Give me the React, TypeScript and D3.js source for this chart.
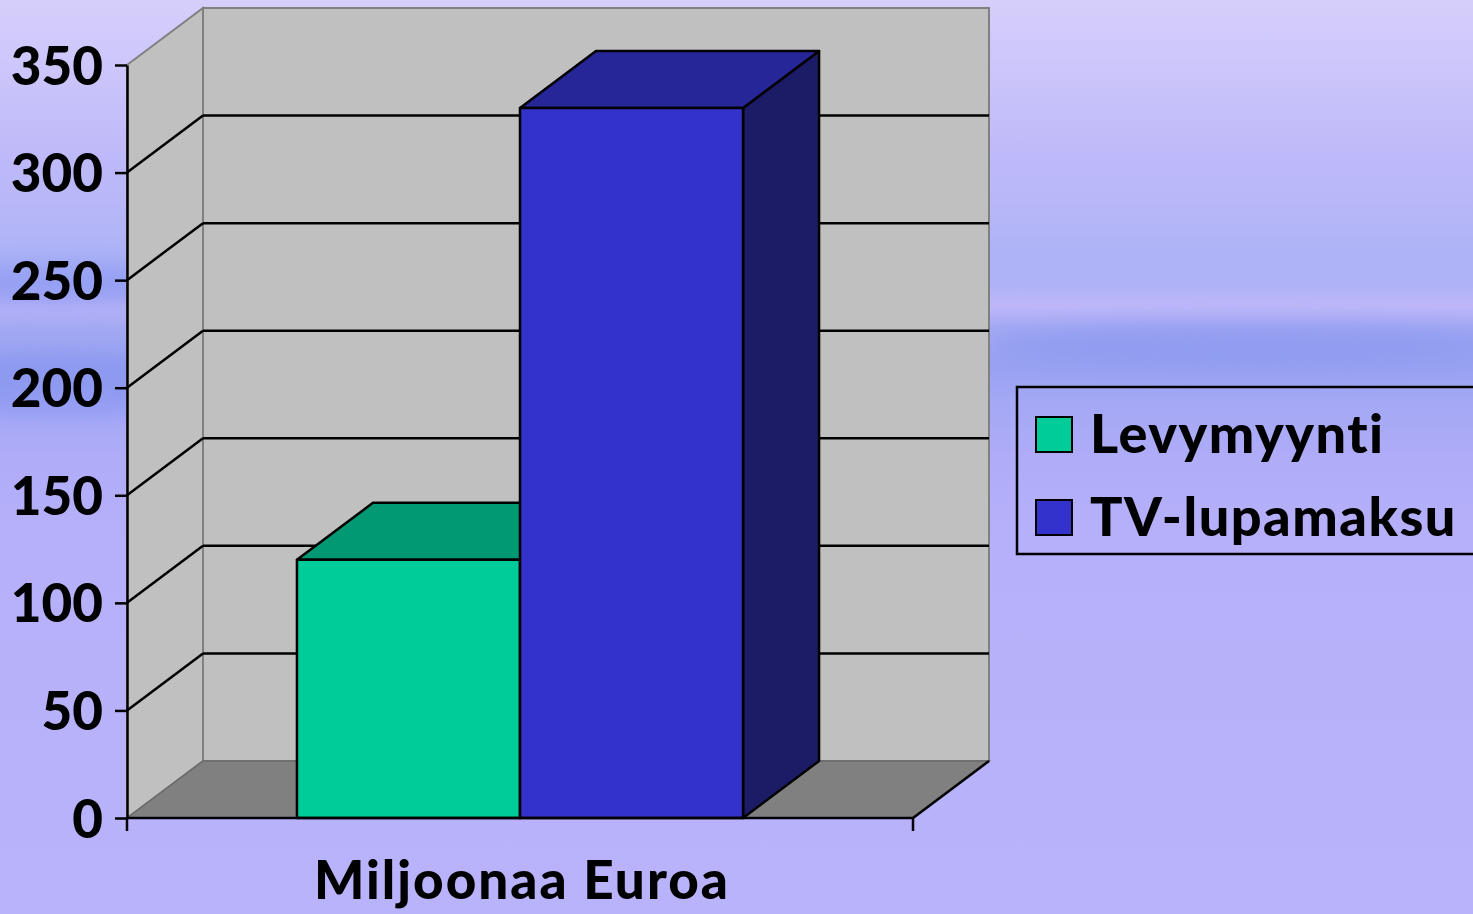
import React, { useEffect, useRef } from 'react';
import { scaleLinear, scaleBand, select, axisLeft } from 'd3';

const d3 = { scaleLinear, scaleBand, select, axisLeft };

// data
const categories = ['Miljoonaa Euroa'];
const seriesNames = ['Levymyynti', 'TV-lupamaksu'];
const seriesValues = [120, 330];
const yTicks = [0, 50, 100, 150, 200, 250, 300, 350];

const seriesFront = ['#00CC99', '#3333CC'];
const seriesTop = ['#009973', '#262699'];
const seriesSide = ['#007359', '#1C1C66'];

const W = 1473;
const H = 914;
const DX = 76; // 3d depth offset
const DY = 57;
const FONT = 'Lato, "Open Sans", sans-serif';

const bgStops = [
    [0, '#D6CFFB'], [0.08, '#CBC5FB'], [0.16, '#C0BAF9'], [0.22, '#B8B7F8'],
    [0.28, '#ADB3F6'], [0.31, '#AFB2F6'], [0.335, '#BDB6F9'], [0.36, '#A2A8F3'],
    [0.40, '#98A2F1'], [0.44, '#A4A8F5'], [0.50, '#AFACF8'], [0.58, '#B6B0FA'],
    [1, '#B9B3FB'],
];

const pts = (p: number[][]) => p.map(d => d.join(',')).join(' ');

const App = () => {
    const axisRef = useRef<SVGGElement>(null);

    const y = d3.scaleLinear().domain([0, 350]).range([818, 65]);
    const xCat = d3.scaleBand().domain(categories).range([127, 913]);
    const x = d3.scaleBand()
        .domain(seriesNames)
        .range([xCat(categories[0])!, xCat(categories[0])! + xCat.bandwidth()])
        .paddingOuter(0.762);

    const x0 = 127, x1 = 913;
    const yTop = y(350), yBase = y(0);

    useEffect(() => {
        const g = d3.select(axisRef.current);
        g.call(d3.axisLeft(y).tickValues(yTicks).tickSize(12).tickSizeOuter(0).tickPadding(12) as any);
        g.select('.domain').attr('stroke', '#000').attr('stroke-width', 2.5);
        g.selectAll('.tick line').attr('stroke', '#000').attr('stroke-width', 2.5);
        g.selectAll('.tick text')
            .attr('font-family', FONT)
            .attr('font-weight', 900)
            .attr('font-size', 53)
            .attr('fill', '#000')
            .attr('dy', '0.36em');
        g.attr('font-family', null).attr('font-size', null);
    }, []);

    return (
        <svg width={W} height={H} style={{ position: 'absolute', left: 0, top: 0 }}>
            <defs>
                <linearGradient id="bg" x1="0" y1="0" x2="0" y2="1">
                    {bgStops.map(([o, c]) => <stop key={o as number} offset={o as number} stopColor={c as string} />)}
                </linearGradient>
                <filter id="blur" x="-20%" y="-50%" width="140%" height="200%">
                    <feGaussianBlur stdDeviation="10" />
                </filter>
            </defs>
            <rect width={W} height={H} fill="url(#bg)" />
            <g filter="url(#blur)" opacity={0.5}>
                <ellipse cx={60} cy={285} rx={180} ry={22} fill="#7E8FF0" />
                <ellipse cx={60} cy={385} rx={200} ry={30} fill="#7F90EF" />
                <ellipse cx={1250} cy={345} rx={260} ry={20} fill="#8494EE" />
            </g>

            {/* left wall */}
            <polygon points={pts([[x0, yTop], [x0 + DX, yTop - DY], [x0 + DX, yBase - DY], [x0, yBase]])}
                fill="#C0C0C0" stroke="#808080" strokeWidth={2} />
            {/* back wall */}
            <rect x={x0 + DX} y={yTop - DY} width={x1 - x0} height={yBase - yTop}
                fill="#C0C0C0" stroke="#808080" strokeWidth={2} />
            {/* floor */}
            <polygon points={pts([[x0, yBase], [x0 + DX, yBase - DY], [x1 + DX, yBase - DY], [x1, yBase]])}
                fill="#808080" stroke="#6a6a6a" strokeWidth={1.5} />
            <line x1={x1} y1={yBase} x2={x1 + DX} y2={yBase - DY} stroke="#000" strokeWidth={2.5} />

            {/* gridlines */}
            {yTicks.filter(t => t > 0 && t < 350).map(t => (
                <g key={t} stroke="#000" strokeWidth={2.5}>
                    <line x1={x0} y1={y(t)} x2={x0 + DX} y2={y(t) - DY} />
                    <line x1={x0 + DX} y1={y(t) - DY} x2={x1 + DX} y2={y(t) - DY} />
                </g>
            ))}

            {/* bars */}
            {seriesNames.map((s, i) => {
                const bx = x(s)!;
                const bw = x.bandwidth();
                const top = y(seriesValues[i]);
                return (
                    <g key={s} stroke="#000" strokeWidth={2.5} strokeLinejoin="round">
                        <polygon fill={seriesSide[i]}
                            points={pts([[bx + bw, top], [bx + bw + DX, top - DY], [bx + bw + DX, yBase - DY], [bx + bw, yBase]])} />
                        <polygon fill={seriesTop[i]}
                            points={pts([[bx, top], [bx + DX, top - DY], [bx + bw + DX, top - DY], [bx + bw, top]])} />
                        <rect x={bx} y={top} width={bw} height={yBase - top} fill={seriesFront[i]} />
                    </g>
                );
            })}

            {/* x axis */}
            <g stroke="#000" strokeWidth={2.5}>
                <line x1={x0} y1={yBase} x2={x1} y2={yBase} />
                {[x0, x1].map(v => <line key={v} x1={v} y1={yBase} x2={v} y2={yBase + 13} />)}
            </g>
            <text x={xCat(categories[0])! + xCat.bandwidth() / 2 + 2} y={899} textAnchor="middle"
                fontFamily={FONT} fontWeight={900} fontSize={53} letterSpacing={2}>{categories[0]}</text>

            {/* y axis */}
            <g ref={axisRef} transform={`translate(${x0},0)`} />

            {/* legend */}
            <g>
                <rect x={1017} y={387} width={470} height={167} fill="none" stroke="#000" strokeWidth={2.5} />
                {seriesNames.map((s, i) => (
                    <g key={s} transform={`translate(1036,${417 + i * 83})`}>
                        <rect width={36} height={35} fill={seriesFront[i]} stroke="#000" strokeWidth={2} />
                        <text x={54} y={36} fontFamily={FONT} fontWeight={900} fontSize={54}
                            letterSpacing={1.5}>{s}</text>
                    </g>
                ))}
            </g>
        </svg>
    );
};

export default App;
